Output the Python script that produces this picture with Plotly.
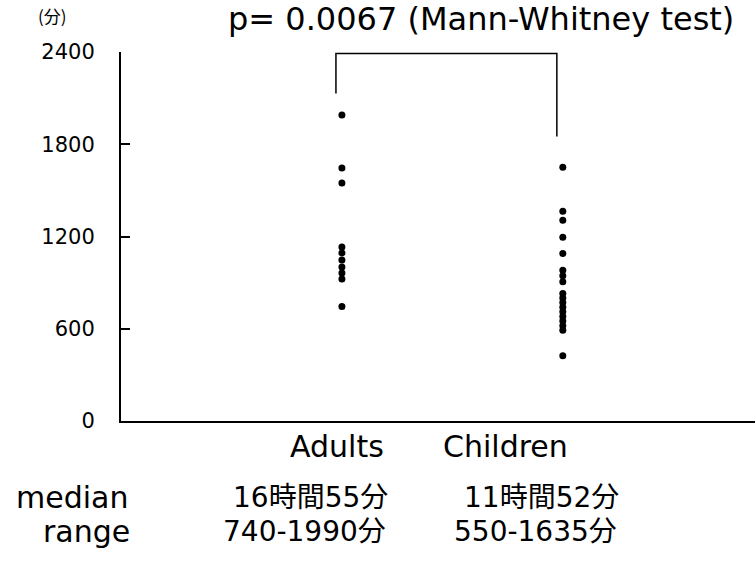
import plotly.graph_objects as go

groups = ["Adults", "Children"]
group_pos = [1, 2]
adults = [1990, 1645, 1548, 1131, 1093, 1047, 1002, 963, 923, 745]
children = [1650, 1365, 1305, 1195, 1090, 980, 945, 905, 830, 800, 770, 740,
            710, 680, 650, 620, 590, 425]
y_ticks = [0, 600, 1200, 1800, 2400]
bracket_x = [0.973, 0.973, 1.973, 1.973]
bracket_y = [2130, 2390, 2390, 1850]
median_labels = ["16時間55分", "11時間52分"]
range_labels = ["740-1990分", "550-1635分"]
row_labels = ["median", "range"]
title_text = "p= 0.0067 (Mann-Whitney test)"
unit_text = "(分)"

W, H = 755, 561
L, R, T, B = 121, 0, 52, 140
pw, ph = W - L - R, H - T - B


def px(x):
    return (x - L) / pw


def py(y):
    return (H - B - y) / ph


SANS = "DejaVu Sans, Noto Sans CJK JP"

fig = go.Figure()
fig.add_trace(go.Scatter(x=[group_pos[0]] * len(adults), y=adults, mode="markers",
                         marker=dict(color="black", size=7), cliponaxis=False))
fig.add_trace(go.Scatter(x=[group_pos[1]] * len(children), y=children, mode="markers",
                         marker=dict(color="black", size=7), cliponaxis=False))
fig.add_trace(go.Scatter(x=bracket_x, y=bracket_y, mode="lines",
                         line=dict(color="black", width=1.5), cliponaxis=False))

ann = []


def add_text(text, cx, cy, size, family):
    ann.append(dict(text=text, x=px(cx), y=py(cy), xref="paper", yref="paper",
                    showarrow=False, xanchor="center", yanchor="middle",
                    font=dict(family=family, size=size, color="black")))


add_text(title_text, 481, 19, 32, SANS)
add_text(unit_text, 52, 15, 17, "Noto Sans CJK JP")
add_text(groups[0], 337, 446, 30, SANS)
add_text(groups[1], 505, 446, 30, SANS)
add_text(row_labels[0], 72, 497, 30, SANS)
add_text(row_labels[1], 86, 531, 30, SANS)
add_text(median_labels[0], 310, 497, 28, SANS)
add_text(median_labels[1], 541, 497, 28, SANS)
add_text(range_labels[0], 304, 531, 28, SANS)
add_text(range_labels[1], 535, 531, 28, SANS)

fig.update_layout(
    width=W, height=H,
    margin=dict(l=L, r=R, t=T, b=B, pad=0),
    paper_bgcolor="white", plot_bgcolor="white",
    showlegend=False,
    annotations=ann,
    xaxis=dict(range=[0, 2.87], showline=True, linecolor="black", linewidth=2,
               showticklabels=False, ticks="", showgrid=False, zeroline=False),
    yaxis=dict(range=[0, 2400], showline=True, linecolor="black", linewidth=2,
               tickvals=y_ticks, ticks="inside", ticklen=9, tickwidth=1.5,
               tickcolor="black", showgrid=False, zeroline=False,
               ticklabelstandoff=20,
               tickfont=dict(family="DejaVu Sans", size=21, color="black")),
)

fig.write_html("out.html")
